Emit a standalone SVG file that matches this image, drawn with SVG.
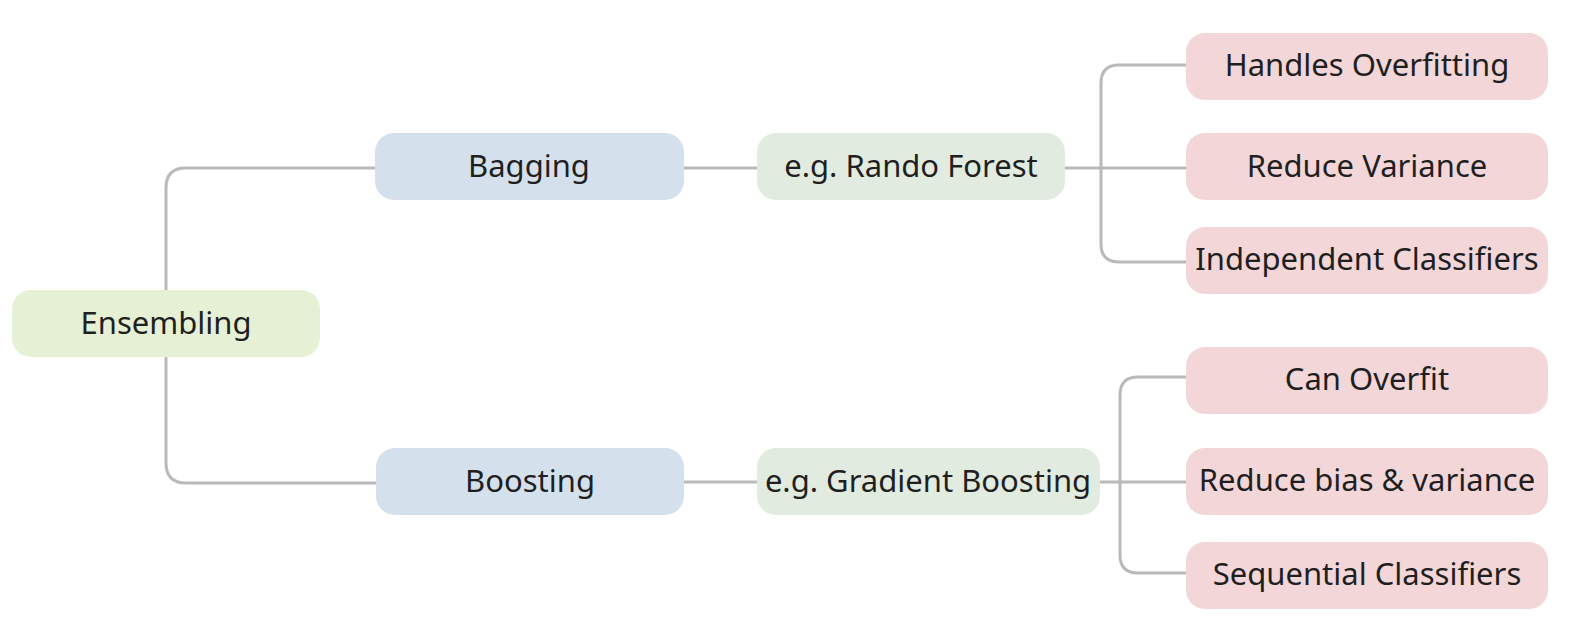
<svg xmlns="http://www.w3.org/2000/svg" width="1586" height="640" viewBox="0 0 1586 640">
<style>
.t{font-family:"Noto Sans","Open Sans","DejaVu Sans",sans-serif;font-size:31px;fill:#1f1f1f;text-anchor:middle;dominant-baseline:central}
.root{fill:#e5f0d5}
.l1{fill:#d4e1ec}
.l2{fill:#e2ebdf}
.l3{fill:#f2d6d8}
.c{fill:none;stroke:#b9b9bc;stroke-width:3}
</style>
<rect width="1586" height="640" fill="#ffffff"/>
<g id="connectors">
<path class="c" d="M166 290 V188 Q166 168 186 168 H375"/>
<path class="c" d="M166 357 V463 Q166 483 186 483 H376"/>
<path class="c" d="M684 168 H757"/>
<path class="c" d="M684 482 H757"/>
<path class="c" d="M1065 168 H1186"/>
<path class="c" d="M1186 65 H1119 Q1101 65 1101 83 V244 Q1101 262 1119 262 H1186"/>
<path class="c" d="M1100 482 H1186"/>
<path class="c" d="M1186 377 H1138 Q1120 377 1120 395 V555 Q1120 573 1138 573 H1186"/>
</g>
<g id="ensembling"><rect class="root" x="12" y="290" width="308" height="67" rx="19"/><text class="t" x="166" y="322">Ensembling</text></g>
<g id="bagging"><rect class="l1" x="375" y="133" width="309" height="67" rx="19"/><text class="t" x="529" y="165">Bagging</text></g>
<g id="boosting"><rect class="l1" x="376" y="448" width="308" height="67" rx="19"/><text class="t" x="530" y="480">Boosting</text></g>
<g id="random-forest"><rect class="l2" x="757" y="133" width="308" height="67" rx="19"/><text class="t" x="911" y="165">e.g. Rando Forest</text></g>
<g id="gradient-boosting"><rect class="l2" x="757" y="448" width="343" height="67" rx="19"/><text class="t" x="928" y="480">e.g. Gradient Boosting</text></g>
<g id="handles-overfitting"><rect class="l3" x="1186" y="33" width="362" height="67" rx="19"/><text class="t" x="1367" y="64">Handles Overfitting</text></g>
<g id="reduce-variance"><rect class="l3" x="1186" y="133" width="362" height="67" rx="19"/><text class="t" x="1367" y="165">Reduce Variance</text></g>
<g id="independent-classifiers"><rect class="l3" x="1186" y="227" width="362" height="67" rx="19"/><text class="t" x="1367" y="258">Independent Classifiers</text></g>
<g id="can-overfit"><rect class="l3" x="1186" y="347" width="362" height="67" rx="19"/><text class="t" x="1367" y="378">Can Overfit</text></g>
<g id="reduce-bias-variance"><rect class="l3" x="1186" y="448" width="362" height="67" rx="19"/><text class="t" x="1367" y="479">Reduce bias &amp; variance</text></g>
<g id="sequential-classifiers"><rect class="l3" x="1186" y="542" width="362" height="67" rx="19"/><text class="t" x="1367" y="573">Sequential Classifiers</text></g>
</svg>
